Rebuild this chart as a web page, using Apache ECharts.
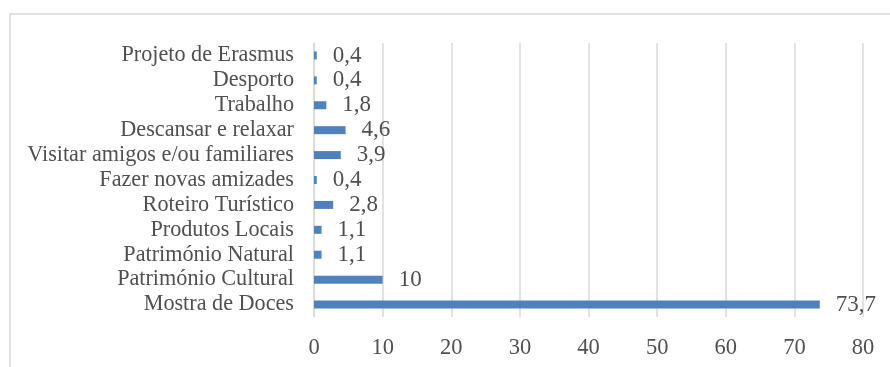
<!DOCTYPE html>
<html>
<head>
<meta charset="utf-8">
<script src="https://cdn.jsdelivr.net/npm/echarts@6/dist/echarts.min.js"></script>
<style>
  html, body { margin: 0; padding: 0; background: #fff; }
  #chart { width: 890px; height: 367px; }
</style>
</head>
<body>
<div id="chart"></div>
<script>
// bottom to top, as the category axis draws them
const categories = [
  "Mostra de Doces",
  "Património Cultural",
  "Património Natural",
  "Produtos Locais",
  "Roteiro Turístico",
  "Fazer novas amizades",
  "Visitar amigos e/ou familiares",
  "Descansar e relaxar",
  "Trabalho",
  "Desporto",
  "Projeto de Erasmus"
];
const values = [73.7, 10, 1.1, 1.1, 2.8, 0.4, 3.9, 4.6, 1.8, 0.4, 0.4];
const xTicks = [0, 10, 20, 30, 40, 50, 60, 70, 80];

const font = "'Liberation Serif', 'DejaVu Serif', serif";
const textColor = "#505050";

const chart = echarts.init(document.getElementById("chart"));
chart.setOption({
  backgroundColor: "#fff",
  animation: false,
  graphic: [{
    type: "rect",
    shape: { x: 10, y: 14, width: 900, height: 400 },
    style: { fill: "none", stroke: "#d9d9d9", lineWidth: 1.5 },
    silent: true
  }],
  grid: { left: 314, right: 27, top: 43, bottom: 50 },
  xAxis: {
    type: "value",
    min: xTicks[0],
    max: xTicks[xTicks.length - 1],
    interval: 10,
    axisLine: { show: false },
    axisTick: { show: false },
    axisLabel: { color: textColor, fontFamily: font, fontSize: 22.5, margin: 20 },
    splitLine: { lineStyle: { color: "#d9d9d9", width: 1.5 } }
  },
  yAxis: {
    type: "category",
    data: categories,
    axisLine: { lineStyle: { color: "#d9d9d9", width: 1.5 } },
    axisTick: { show: false },
    axisLabel: {
      interval: 0,
      hideOverlap: false,
      color: textColor,
      fontFamily: font,
      fontSize: 22.2,
      lineHeight: 22,
      padding: [3, 0, 0, 0],
      margin: 20
    }
  },
  series: [{
    type: "bar",
    data: values,
    barWidth: 8,
    itemStyle: { color: "#4f81bd" },
    label: {
      show: true,
      position: "right",
      distance: 16,
      color: textColor,
      fontFamily: font,
      fontSize: 23,
      padding: [3, 0, 0, 0],
      formatter: (p) => String(p.value).replace(".", ",")
    }
  }]
});
</script>
</body>
</html>
